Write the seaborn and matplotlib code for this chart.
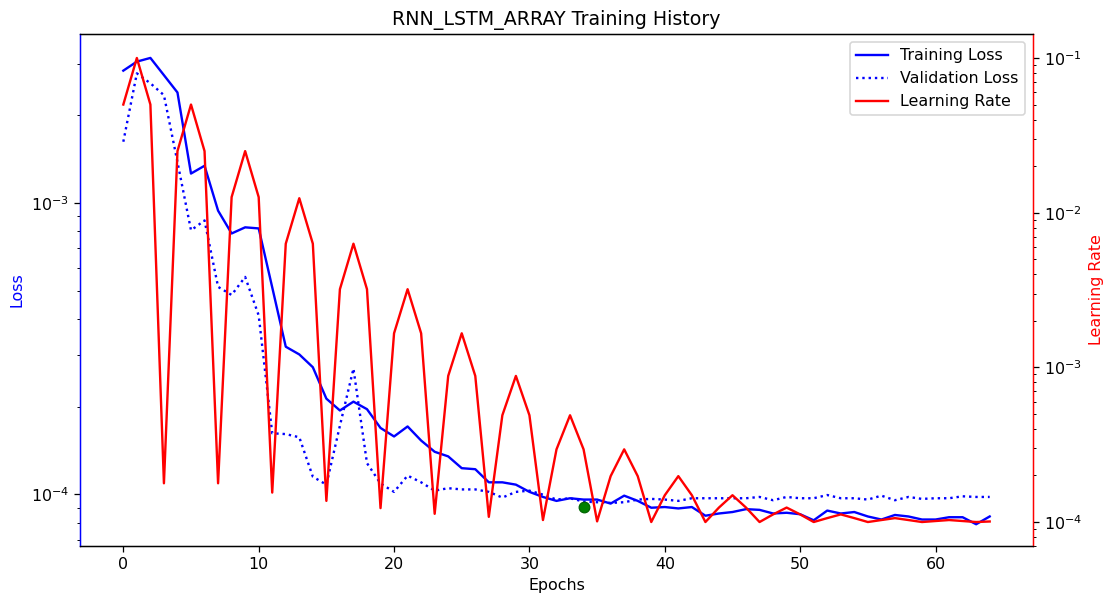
import numpy as np
import pandas as pd
import matplotlib
matplotlib.use("Agg")
import matplotlib.pyplot as plt
import seaborn as sns

epochs = list(range(65))

train_loss = [2.84e-3, 3.05e-3, 3.14e-3, 2.74e-3, 2.39e-3, 1.26e-3, 1.34e-3, 9.4e-4, 7.85e-4, 8.24e-4,
              8.17e-4, 5.13e-4, 3.21e-4, 3.02e-4, 2.73e-4, 2.13e-4, 1.94e-4, 2.08e-4, 1.96e-4, 1.69e-4,
              1.58e-4, 1.71e-4, 1.53e-4, 1.40e-4, 1.35e-4, 1.23e-4, 1.22e-4, 1.10e-4, 1.10e-4, 1.08e-4,
              1.02e-4, 9.8e-5, 9.5e-5, 9.7e-5, 9.6e-5, 9.6e-5, 9.3e-5, 9.9e-5, 9.5e-5, 9.0e-5,
              9.05e-5, 8.95e-5, 9.05e-5, 8.45e-5, 8.6e-5, 8.7e-5, 8.9e-5, 8.85e-5, 8.6e-5, 8.65e-5,
              8.55e-5, 8.15e-5, 8.8e-5, 8.6e-5, 8.7e-5, 8.4e-5, 8.2e-5, 8.5e-5, 8.4e-5, 8.2e-5,
              8.2e-5, 8.35e-5, 8.35e-5, 7.9e-5, 8.4e-5]

val_loss = [1.62e-3, 2.78e-3, 2.57e-3, 2.34e-3, 1.38e-3, 8.05e-4, 8.7e-4, 5.15e-4, 4.83e-4, 5.57e-4,
            4.11e-4, 1.62e-4, 1.61e-4, 1.57e-4, 1.15e-4, 1.08e-4, 1.72e-4, 2.70e-4, 1.28e-4, 1.09e-4,
            1.02e-4, 1.16e-4, 1.10e-4, 1.03e-4, 1.05e-4, 1.04e-4, 1.04e-4, 1.02e-4, 9.75e-5, 1.02e-4,
            1.03e-4, 9.98e-5, 9.6e-5, 9.7e-5, 9.45e-5, 9.4e-5, 9.35e-5, 9.4e-5, 9.6e-5, 9.65e-5,
            9.6e-5, 9.5e-5, 9.7e-5, 9.7e-5, 9.7e-5, 9.7e-5, 9.7e-5, 9.8e-5, 9.55e-5, 9.8e-5,
            9.7e-5, 9.7e-5, 9.95e-5, 9.7e-5, 9.7e-5, 9.6e-5, 9.9e-5, 9.55e-5, 9.8e-5, 9.65e-5,
            9.7e-5, 9.7e-5, 9.85e-5, 9.8e-5, 9.8e-5]

learning_rate = [0.05, 0.1, 0.05, 1.78e-4, 0.025, 0.05, 0.025, 1.78e-4, 0.0126, 0.025,
                 0.0126, 1.55e-4, 0.0063, 0.0124, 0.0063, 1.37e-4, 0.0032, 0.0063, 0.0032, 1.23e-4,
                 0.00166, 0.0032, 0.00166, 1.13e-4, 8.8e-4, 0.00166, 8.8e-4, 1.08e-4, 4.9e-4, 8.8e-4,
                 4.9e-4, 1.03e-4, 2.95e-4, 4.9e-4, 2.95e-4, 1.01e-4, 1.98e-4, 2.95e-4, 1.98e-4, 1.0e-4,
                 1.49e-4, 1.98e-4, 1.49e-4, 1.0e-4, 1.24e-4, 1.49e-4, 1.24e-4, 1.0e-4, 1.12e-4, 1.24e-4,
                 1.12e-4, 1.0e-4, 1.06e-4, 1.12e-4, 1.06e-4, 1.0e-4, 1.03e-4, 1.06e-4, 1.03e-4, 1.0e-4,
                 1.015e-4, 1.03e-4, 1.015e-4, 1.0e-4, 1.008e-4]

best_epoch = [34]
best_value = [9.07e-5]

df = pd.DataFrame({"epoch": epochs, "train": train_loss, "val": val_loss, "lr": learning_rate})

DPI = 114
fig = plt.figure(figsize=(1107 / DPI, 594 / DPI), dpi=DPI)
ax = fig.add_axes([80 / 1107, 1 - 546 / 594, (1033 - 80) / 1107, (546 - 34) / 594])
ax2 = ax.twinx()

sns.lineplot(data=df, x="epoch", y="train", ax=ax, color="blue", linewidth=1.5,
             label="Training Loss", legend=False)
sns.lineplot(data=df, x="epoch", y="val", ax=ax, color="blue", linewidth=1.5,
             linestyle=":", label="Validation Loss", legend=False)
sns.scatterplot(x=best_epoch, y=best_value, ax=ax, color="green", s=45,
                edgecolor="darkgreen", linewidth=0.8, zorder=5, legend=False)
sns.lineplot(data=df, x="epoch", y="lr", ax=ax2, color="red", linewidth=1.5,
             label="Learning Rate", legend=False)

ax.set_yscale("log")
ax2.set_yscale("log")
ax.set_xlim(-3.2, 67.2)
ax.set_ylim(10 ** -4.177, 10 ** -2.421)
ax2.set_ylim(10 ** -4.155, 10 ** -0.845)

ax.set_xlabel("Epochs")
ax.set_ylabel("Loss", color="blue")
ax2.set_ylabel("Learning Rate", color="red")
ax.set_title("RNN_LSTM_ARRAY Training History")

ax.spines["left"].set_color("blue")
ax2.spines["left"].set_color("blue")
ax2.spines["right"].set_color("red")
ax.spines["right"].set_color("red")

h1, l1 = ax.get_legend_handles_labels()
h2, l2 = ax2.get_legend_handles_labels()
ax2.legend(h1 + h2, l1 + l2, loc="upper right")

fig.savefig("out.png", dpi=DPI)
